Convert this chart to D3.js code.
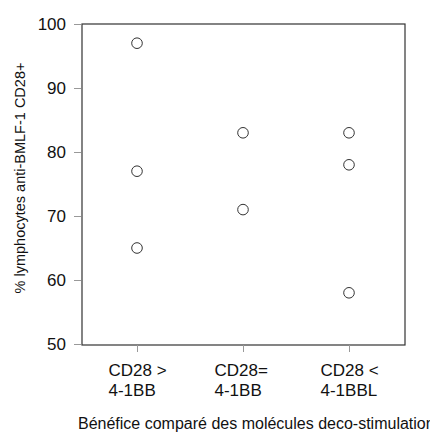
<!DOCTYPE html>
<html><head><meta charset="utf-8">
<script src="https://cdn.jsdelivr.net/npm/d3@7"></script>
<style>body{margin:0;background:#fff}svg{display:block}text{font-family:"Liberation Sans",Arial,Helvetica,sans-serif;fill:#111}</style>
</head><body>
<svg id="c" width="430" height="435"></svg>
<script>
const categories = ["CD28 >|4-1BB", "CD28=|4-1BB", "CD28 <|4-1BBL"];
const group1 = [97, 77, 65];
const group2 = [83, 71];
const group3 = [83, 78, 58];
const yTicks = [50, 60, 70, 80, 90, 100];
const yLabel = "% lymphocytes anti-BMLF-1 CD28+";
const xLabel = "Bénéfice comparé des molécules deco-stimulation";

const groups = [group1, group2, group3];
const svg = d3.select("#c");
const L = 82, R = 405, T = 24, B = 345;
const y = d3.scaleLinear().domain([50, 100]).range([344, 24]);
const x = d3.scalePoint().domain(categories).range([137, 349]);

// box
svg.append("rect").attr("x", L).attr("y", T).attr("width", R - L).attr("height", B - T)
  .attr("fill", "none").attr("stroke", "#333").attr("stroke-width", 1.2);

// y axis
const ya = svg.append("g").attr("transform", `translate(${L - 1},0)`)
  .call(d3.axisLeft(y).tickValues(yTicks).tickSize(7).tickPadding(8).tickFormat(d3.format("d")));
ya.select(".domain").remove();
ya.selectAll(".tick line").attr("stroke", "#999");
ya.selectAll(".tick text").attr("font-size", 17).attr("font-family", '"Liberation Sans",Arial,sans-serif').attr("fill", "#111");

// x axis ticks
const xa = svg.append("g").attr("transform", `translate(0,${B})`)
  .call(d3.axisBottom(x).tickSize(7).tickFormat(""));
xa.select(".domain").remove();
xa.selectAll(".tick line").attr("stroke", "#999");

// x category labels (two lines, left aligned)
categories.forEach(c => {
  const parts = c.split("|");
  const t = svg.append("text").attr("font-size", 17).attr("text-anchor", "start");
  parts.forEach((p, i) => {
    t.append("tspan").attr("x", x(c) - 28.5).attr("y", 376 + i * 20).text(p);
  });
});

// points
groups.forEach((vals, gi) => {
  svg.selectAll(null).data(vals).enter().append("circle")
    .attr("cx", x(categories[gi])).attr("cy", d => y(d)).attr("r", 5.3)
    .attr("fill", "none").attr("stroke", "#333").attr("stroke-width", 1);
});

// y label
svg.append("text").attr("transform", "translate(25,178) rotate(-90)")
  .attr("text-anchor", "middle").attr("font-size", 14.5).text(yLabel);

// x title
svg.append("text").attr("x", 78).attr("y", 429).attr("font-size", 16)
  .attr("text-anchor", "start").text(xLabel);
</script>
</body></html>
